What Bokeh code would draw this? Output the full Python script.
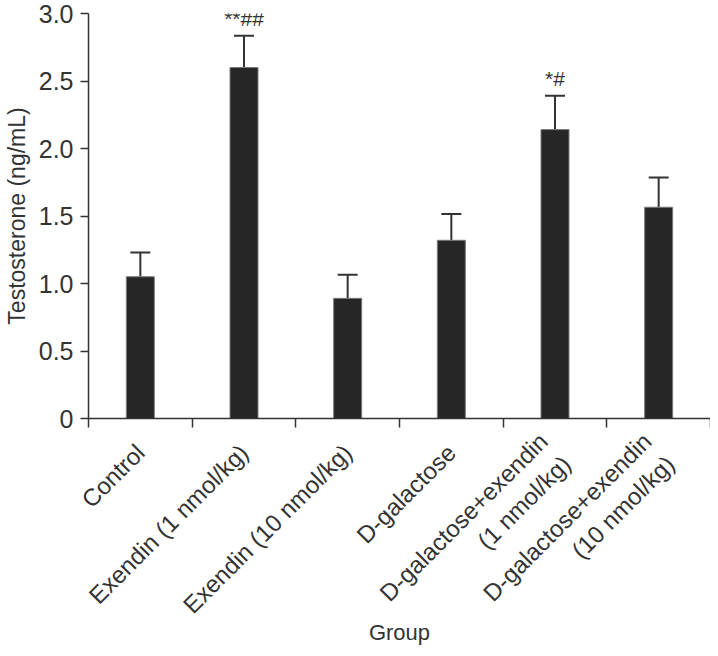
import math
from bokeh.plotting import figure
from bokeh.models import ColumnDataSource, FixedTicker, Whisker, TeeHead, Range1d
from bokeh.embed import file_html
from bokeh.resources import INLINE
from bokeh.core.properties import value

groups = ["Control", "Exendin (1 nmol/kg)", "Exendin (10 nmol/kg)", "D-galactose",
          "D-galactose+exendin\n(1 nmol/kg)", "D-galactose+exendin\n(10 nmol/kg)"]
means = [1.05, 2.60, 0.89, 1.32, 2.14, 1.565]
errors = [0.18, 0.235, 0.175, 0.195, 0.25, 0.22]
marks = ["", "**##", "", "", "*#", ""]
y_ticks = [0, 0.5, 1.0, 1.5, 2.0, 2.5, 3.0]
y_tick_labels = ["0", "0.5", "1.0", "1.5", "2.0", "2.5", "3.0"]
x_title = "Group"
y_title = "Testosterone (ng/mL)"

FONT = "Liberation Sans"
INK = "#333333"

centers = [i + 0.5 for i in range(len(groups))]
bounds = [float(i) for i in range(len(groups) + 1)]
uppers = [m + e for m, e in zip(means, errors)]

src = ColumnDataSource(dict(x=centers, top=means, upper=uppers, mark=marks))

p = figure(width=710, height=648, output_backend="svg", toolbar_location=None,
           x_range=Range1d(0, len(groups)), y_range=Range1d(0, 3.0),
           min_border_left=81, min_border_right=0, min_border_top=13, min_border_bottom=228)
p.outline_line_color = None
p.xgrid.visible = False
p.ygrid.visible = False

p.vbar(x="x", top="top", bottom=0, width=0.27, source=src,
       fill_color="#262626", line_color="#7a7a7a", line_width=1)

w = Whisker(base="x", lower="top", upper="upper", source=src, dimension="height",
            line_color=INK, line_width=2,
            upper_head=TeeHead(size=20, line_color=INK, line_width=2), lower_head=None)
p.add_layout(w)

p.text(x="x", y="upper", text="mark", source=src, y_offset=-6,
       text_align="center", text_baseline="bottom",
       text_font=value(FONT), text_font_size="21px", text_color=INK)

# x axis: tick marks at category boundaries, labels at category centres
xa = p.xaxis[0]
xa.ticker = FixedTicker(ticks=centers, minor_ticks=bounds)
xa.major_label_overrides = {c: g for c, g in zip(centers, groups)}
xa.major_tick_line_color = None
xa.minor_tick_line_color = INK
xa.minor_tick_out = 9
xa.minor_tick_in = 0
xa.minor_tick_line_width = 1.5
xa.axis_line_color = INK
xa.axis_line_width = 1.5
xa.major_label_orientation = math.pi / 4
xa.major_label_standoff = 21
xa.major_label_text_font = FONT
xa.major_label_text_font_size = "24px"
xa.major_label_text_color = INK
xa.axis_label = x_title
xa.axis_label_text_font = FONT
xa.axis_label_text_font_style = "normal"
xa.axis_label_text_font_size = "22px"
xa.axis_label_text_color = INK
xa.axis_label_standoff = -33

# y axis
ya = p.yaxis[0]
ya.ticker = FixedTicker(ticks=y_ticks, minor_ticks=[])
ya.major_label_overrides = {t: l for t, l in zip(y_ticks, y_tick_labels)}
ya.major_tick_out = 8
ya.major_tick_in = 0
ya.major_tick_line_color = INK
ya.major_tick_line_width = 1.5
ya.axis_line_color = INK
ya.axis_line_width = 1.5
ya.major_label_standoff = 7
ya.major_label_text_font = FONT
ya.major_label_text_font_size = "25px"
ya.major_label_text_color = INK
ya.axis_label = y_title
ya.axis_label_text_font = FONT
ya.axis_label_text_font_style = "normal"
ya.axis_label_text_font_size = "23px"
ya.axis_label_text_color = INK
ya.axis_label_standoff = 6

open("out.html", "w").write(file_html(p, INLINE))
